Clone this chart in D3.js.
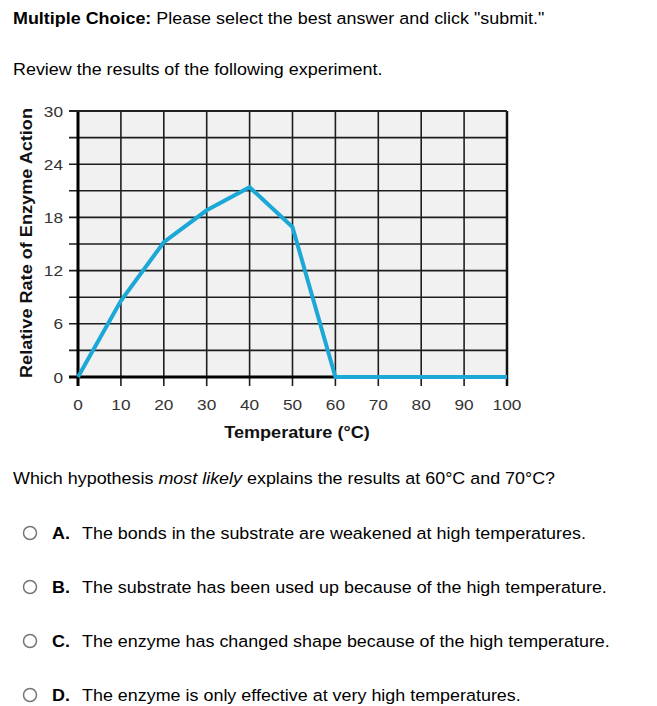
<!DOCTYPE html>
<html><head><meta charset="utf-8">
<script src="https://cdn.jsdelivr.net/npm/d3@7"></script>
<style>
body{margin:0;background:#fff;font-family:"Liberation Sans",Arial,sans-serif;}
</style></head><body>
<svg id="c" width="657" height="706"></svg>
<script>
const temps = [0, 10, 20, 30, 40, 50, 60, 70, 80, 90, 100];
const rates = [0, 8.6, 15.2, 18.8, 21.4, 16.9, 0, 0, 0, 0, 0];
const xTicks = [0, 10, 20, 30, 40, 50, 60, 70, 80, 90, 100];
const yTicks = [0, 6, 12, 18, 24, 30];
const yGrid = [0, 3, 6, 9, 12, 15, 18, 21, 24, 27, 30];
const options = [
  ["A.", "The bonds in the substrate are weakened at high temperatures."],
  ["B.", "The substrate has been used up because of the high temperature."],
  ["C.", "The enzyme has changed shape because of the high temperature."],
  ["D.", "The enzyme is only effective at very high temperatures."]
];

const svg = d3.select("#c");
const F = "'Liberation Sans', Arial, sans-serif";
const SX = 1.12;

function txt(parent, x, y, size, sx) {
  return parent.append("text")
    .attr("transform", `translate(${x},${y}) scale(${sx},1)`)
    .attr("font-family", F).attr("font-size", size).attr("fill", "#000");
}

// header
const h = txt(svg, 13, 24, 16.5, SX * 16 / 16.5);
h.append("tspan").attr("font-weight", "bold").text("Multiple Choice:");
h.append("tspan").text(" Please select the best answer and click \"submit.\"");
txt(svg, 13, 75, 16.5, SX * 16 / 16.5).text("Review the results of the following experiment.");

const x = d3.scaleLinear().domain([0, 100]).range([78, 507]);
const y = d3.scaleLinear().domain([0, 30]).range([377, 111]);

svg.append("rect").attr("x", x(0)).attr("y", y(30)).attr("width", x(100) - x(0)).attr("height", y(0) - y(30)).attr("fill", "#f1f1f1");

const g = svg.append("g");
g.selectAll(".vg").data(xTicks).join("line")
  .attr("x1", d => x(d)).attr("x2", d => x(d)).attr("y1", y(30)).attr("y2", y(0) + 9)
  .attr("stroke", "#1e1e1e").attr("stroke-width", 1.6);
g.selectAll(".hg").data(yGrid).join("line")
  .attr("x1", x(0) - 9).attr("x2", x(100)).attr("y1", d => y(d)).attr("y2", d => y(d))
  .attr("stroke", "#1e1e1e").attr("stroke-width", 1.6);
// heavy frame
g.append("line").attr("x1", x(0)).attr("x2", x(0)).attr("y1", y(30)).attr("y2", y(0) + 9).attr("stroke", "#000").attr("stroke-width", 3);
g.append("line").attr("x1", x(0) - 9).attr("x2", x(100)).attr("y1", y(0)).attr("y2", y(0)).attr("stroke", "#000").attr("stroke-width", 3);
g.append("line").attr("x1", x(100)).attr("x2", x(100)).attr("y1", y(30)).attr("y2", y(0) + 9).attr("stroke", "#111").attr("stroke-width", 2.5);
g.append("line").attr("x1", x(0) - 9).attr("x2", x(100)).attr("y1", y(30)).attr("y2", y(30)).attr("stroke", "#222").attr("stroke-width", 2);

// data line
const line = d3.line().x((d, i) => x(temps[i])).y(d => y(d));
svg.append("path").datum(rates).attr("d", line).attr("fill", "none")
  .attr("stroke", "#1ba8d6").attr("stroke-width", 4).attr("stroke-linejoin", "miter");

// tick labels
xTicks.forEach(d => {
  txt(svg, x(d), 410, 15, 1.15).attr("text-anchor", "middle").attr("fill", "#333").text(d);
});
yTicks.forEach(d => {
  txt(svg, 63, y(d) + 5.5, 15, 1.15).attr("text-anchor", "end").attr("fill", "#333").text(d);
});

txt(svg, 297, 438, 16, 1.13).attr("text-anchor", "middle").attr("font-weight", "bold").attr("fill", "#111")
  .text("Temperature (°C)");
svg.append("text").attr("transform", "translate(32,243) rotate(-90)").attr("text-anchor", "middle")
  .attr("font-family", F).attr("font-size", 17).attr("font-weight", "bold").attr("fill", "#111")
  .attr("textLength", 270).attr("lengthAdjust", "spacingAndGlyphs")
  .text("Relative Rate of Enzyme Action");

// question
const q = txt(svg, 13, 484, 16.5, SX * 16 / 16.5);
q.append("tspan").text("Which hypothesis ");
q.append("tspan").attr("font-style", "italic").text("most likely");
q.append("tspan").text(" explains the results at 60°C and 70°C?");

const og = svg.selectAll(".opt").data(options).join("g").attr("transform", (d, i) => `translate(0,${533 + i * 54})`);
og.append("circle").attr("cx", 30).attr("cy", 0).attr("r", 6.5).attr("fill", "#fff").attr("stroke", "#777").attr("stroke-width", 1.5);
og.each(function(d) {
  const s = d3.select(this);
  txt(s, 52, 6, 16.5, SX * 16 / 16.5).attr("font-weight", "bold").text(d[0]);
  txt(s, 82, 6, 16.5, SX * 16 / 16.5).text(d[1]);
});
</script>
</body></html>
